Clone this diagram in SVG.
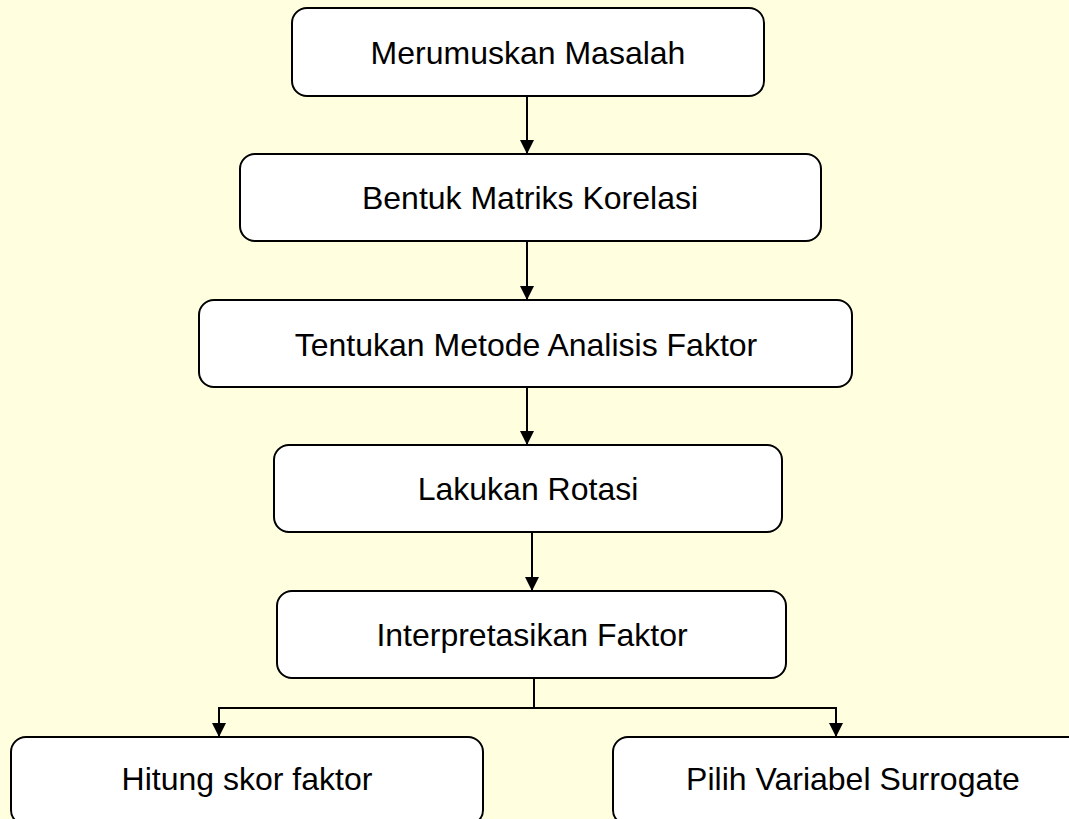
<svg xmlns="http://www.w3.org/2000/svg" width="1069" height="819" viewBox="0 0 1069 819">
<defs>
<marker id="arr" markerUnits="userSpaceOnUse" markerWidth="14" markerHeight="15" refX="14" refY="7" orient="auto" viewBox="0 0 14 14">
<path d="M0,0 L14,7 L0,14 Z" fill="#000"/>
</marker>
</defs>
<style>
.box{fill:#fff;stroke:#000;stroke-width:2}
.lbl{font-family:"Liberation Sans",Arial,sans-serif;font-size:32px;fill:#000;text-anchor:middle}
.con{fill:none;stroke:#000;stroke-width:2}
</style>
<rect x="0" y="0" width="1069" height="819" fill="#FFFFE0"/>
<g id="connectors">
<line class="con" x1="527" y1="96" x2="527" y2="154" marker-end="url(#arr)"/>
<line class="con" x1="527" y1="241" x2="527" y2="300" marker-end="url(#arr)"/>
<line class="con" x1="527" y1="387" x2="527" y2="445" marker-end="url(#arr)"/>
<line class="con" x1="532" y1="532" x2="532" y2="591" marker-end="url(#arr)"/>
<polyline class="con" points="534,678 534,708 219,708 219,737" marker-end="url(#arr)"/>
<polyline class="con" points="534,708 836,708 836,737" marker-end="url(#arr)"/>
</g>
<g id="n1"><rect class="box" x="292" y="8" width="472" height="88" rx="15"/><text class="lbl" x="528" y="64">Merumuskan Masalah</text></g>
<g id="n2"><rect class="box" x="240" y="154" width="581" height="87" rx="15"/><text class="lbl" x="530" y="209">Bentuk Matriks Korelasi</text></g>
<g id="n3"><rect class="box" x="199" y="300" width="653" height="87" rx="15"/><text class="lbl" x="526" y="356">Tentukan Metode Analisis Faktor</text></g>
<g id="n4"><rect class="box" x="274" y="445" width="508" height="87" rx="15"/><text class="lbl" x="528" y="500">Lakukan Rotasi</text></g>
<g id="n5"><rect class="box" x="277" y="591" width="509" height="87" rx="15"/><text class="lbl" x="532" y="646">Interpretasikan Faktor</text></g>
<g id="n6"><rect class="box" x="11" y="737" width="472" height="88" rx="15"/><text class="lbl" x="247" y="790">Hitung skor faktor</text></g>
<g id="n7"><rect class="box" x="613" y="737" width="480" height="88" rx="15"/><text class="lbl" x="853" y="790">Pilih Variabel Surrogate</text></g>
</svg>
